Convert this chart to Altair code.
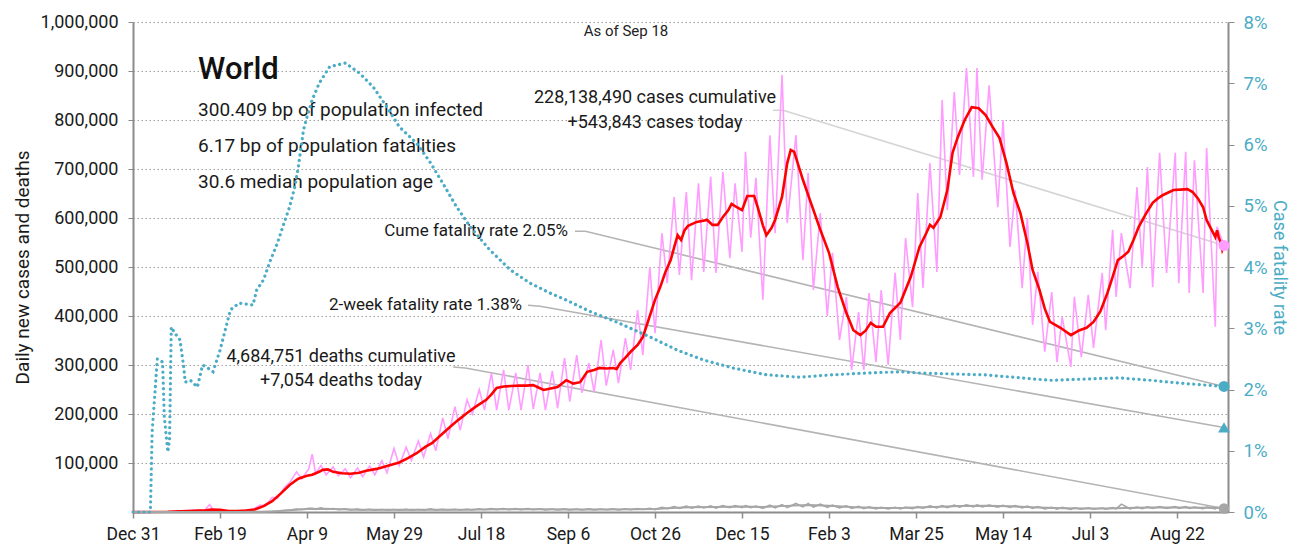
import altair as alt
import pandas as pd

FONT = "Roboto, Liberation Sans, sans-serif"
TEAL = "#4bacc6"
PINK = "#ff9cff"
RED = "#ff0000"
GRAY = "#a6a6a6"

# x axis: days since Dec 31, 2019
tick_days = [0, 50, 100, 150, 200, 250, 300, 350, 400, 450, 500, 550, 600]
tick_labels = ["Dec 31", "Feb 19", "Apr 9", "May 29", "Jul 18", "Sep 6", "Oct 26",
               "Dec 15", "Feb 3", "Mar 25", "May 14", "Jul 3", "Aug 22"]
y_ticks = [100000, 200000, 300000, 400000, 500000, 600000, 700000, 800000, 900000, 1000000]
pct_ticks = [0, 1, 2, 3, 4, 5, 6, 7, 8]

# daily new cases / deaths (thousands), read at weekly highs and lows
raw_days = [
    0, 3, 6, 10, 13, 17, 20, 24, 27, 31,
    34, 38, 41, 44, 46, 48, 52, 55, 59, 62,
    66, 69, 73, 76, 80, 83, 87, 90, 94, 97,
    101, 103, 105, 108, 111, 115, 118, 122, 125, 129,
    132, 136, 139, 143, 146, 150, 153, 157, 160, 164,
    167, 171, 174, 178, 181, 185, 188, 192, 195, 199,
    202, 206, 209, 213, 216, 220, 223, 227, 230, 234,
    237, 241, 244, 248, 251, 255, 258, 262, 265, 269,
    272, 276, 279, 283, 286, 290, 293, 297, 300, 304,
    307, 311, 314, 318, 321, 325, 328, 332, 335, 339,
    343, 346, 350, 352, 355, 358, 362, 366, 369, 373,
    376, 381, 385, 388, 391, 395, 399, 402, 406, 410,
    413, 417, 420, 423, 427, 430, 434, 438, 441, 444,
    448, 451, 454, 458, 462, 465, 468, 472, 475, 479,
    483, 485, 488, 492, 497, 500, 504, 507, 511, 514,
    517, 520, 524, 528, 531, 534, 539, 541, 545, 549,
    552, 557, 559, 563, 565, 568, 573, 577, 580, 583,
    586, 590, 594, 599, 601, 605, 607, 610, 615, 617,
    622, 623, 627]
raw_cases_k = [
    0, 0.1, 0, 0.1, 0.1, 0.2, 0.2, 1.0, 1.8, 2.1,
    3.0, 3.9, 2.5, 15.2, 5.0, 2.0, 1.5, 0.9, 1.4, 2.5,
    4.5, 5.5, 14, 12, 30, 28, 50, 60, 82, 68,
    88, 118, 78, 95, 76, 92, 74, 88, 70, 90,
    72, 94, 76, 105, 80, 130, 95, 132, 105, 145,
    112, 160, 125, 192, 150, 215, 167, 229, 200, 250,
    208, 284, 208, 290, 208, 284, 208, 300, 210, 284,
    208, 288, 212, 314, 225, 320, 243, 304, 245, 351,
    258, 331, 263, 355, 290, 412, 320, 500, 365, 569,
    467, 643, 484, 653, 473, 671, 490, 684, 488, 694,
    518, 671, 531, 735, 560, 682, 433, 769, 569, 892,
    590, 769, 514, 692, 453, 610, 400, 529, 351, 439,
    290, 408, 290, 447, 306, 453, 300, 488, 351, 559,
    418, 651, 457, 712, 490, 841, 616, 857, 688, 906,
    684, 906, 678, 871, 622, 800, 541, 657, 457, 600,
    382, 490, 327, 449, 306, 398, 296, 439, 316, 443,
    335, 488, 371, 576, 439, 569, 457, 663, 500, 704,
    459, 733, 488, 733, 467, 735, 447, 718, 447, 743,
    378, 582, 543.843]
raw_deaths_k = [
    0, 0, 0, 0, 0, 0, 0, 0.03, 0.05, 0.05,
    0.06, 0.09, 0.1, 0.25, 0.14, 0.1, 0.1, 0.1, 0.05, 0.1,
    0.2, 0.3, 0.5, 0.8, 1.5, 2.0, 3.2, 3.8, 6.0, 5.0,
    7.3, 7.5, 5.5, 8.5, 5.0, 7.0, 4.5, 6.3, 4.0, 5.8,
    3.8, 5.5, 3.5, 5.2, 3.6, 5.0, 3.6, 5.3, 3.5, 5.2,
    3.7, 6.5, 3.8, 5.3, 4.0, 5.6, 4.0, 5.5, 4.2, 6.5,
    4.5, 6.8, 4.8, 7.0, 4.8, 6.9, 4.9, 6.8, 4.6, 6.5,
    4.3, 6.2, 4.3, 6.3, 4.3, 6.0, 4.2, 6.3, 4.3, 6.2,
    4.5, 6.3, 4.0, 6.5, 4.5, 7.0, 5.0, 7.5, 5.0, 9.5,
    7.0, 11.0, 7.5, 12.0, 8.0, 12.2, 8.2, 12.5, 8.0, 13.0,
    8.8, 13.3, 9.0, 13.0, 9.0, 12.0, 7.5, 14.0, 8.5, 15.0,
    9.0, 17.5, 10.5, 17.5, 10.0, 16.0, 9.5, 14.0, 8.5, 12.5,
    7.5, 11.5, 7.0, 10.5, 6.5, 9.5, 6.5, 9.5, 6.5, 10.0,
    7.0, 11.0, 8.0, 12.5, 8.5, 13.0, 9.0, 14.0, 10.0, 14.5,
    10.5, 14.5, 10.5, 14.0, 10.0, 13.5, 9.5, 13.0, 8.5, 12.0,
    7.5, 11.0, 6.5, 9.5, 6.0, 9.5, 5.5, 8.5, 5.5, 8.5,
    5.5, 8.0, 6.0, 9.0, 6.5, 16.0, 6.5, 10.0, 7.0, 10.5,
    7.5, 11.0, 7.5, 11.0, 7.5, 11.0, 7.5, 10.0, 7.0, 10.0,
    6.5, 9.0, 7.054]

# 7-day average of new cases (thousands)
avg_days = [0, 20, 35, 42, 45, 50, 55, 60, 65, 70, 75, 80, 85, 90, 95, 100, 103, 107, 109,
            112, 115, 120, 125, 130, 134, 140, 144, 148, 153, 158, 163, 168, 172, 177, 182,
            187, 192, 197, 203, 206, 209, 213, 217, 222, 226, 230, 233, 236, 240, 244, 249,
            253, 257, 261, 265, 268, 272, 276, 278, 280, 283, 286, 290, 293, 297, 300, 303,
            306, 309, 311, 313, 315, 317, 319, 324, 330, 333, 336, 339, 342, 344, 347, 350,
            353, 357, 359, 362, 364, 367, 369, 373, 376, 378, 380, 382, 385, 389, 395, 400,
            405, 410, 414, 418, 421, 424, 427, 431, 435, 441, 447, 452, 456, 458, 460, 464,
            468, 471, 474, 478, 482, 486, 490, 494, 498, 502, 506, 510, 514, 517, 521, 524,
            527, 533, 539, 544, 548, 552, 556, 560, 563, 566, 569, 572, 575, 578, 582, 586,
            589, 592, 595, 598, 602, 606, 609, 612, 615, 617, 619, 621, 622, 623, 624, 625,
            626, 627]
avg_cases_k = [0, 0.5, 2.5, 3.5, 5, 4.5, 2, 1.8, 3, 5, 12, 22, 38, 55, 68, 74, 76, 82, 86,
               87, 82, 79, 78, 80, 84, 88, 92, 96, 101, 110, 120, 133, 141, 157, 173,
               188, 202, 215, 229, 240, 253, 256, 257, 258, 258, 259, 254, 249, 252, 255, 269,
               262, 265, 286, 290, 294, 293, 294, 292, 304, 315, 327, 341, 357, 400, 433, 459,
               490, 514, 540, 565, 555, 575, 584, 592, 596, 586, 586, 602, 615, 629, 622, 616,
               645, 645, 622, 585, 565, 580, 596, 643, 712, 739, 735, 712, 678, 637, 576, 529,
               459, 406, 371, 361, 370, 386, 378, 378, 406, 427, 480, 541, 570, 586, 580, 602,
               657, 733, 765, 800, 826, 824, 810, 786, 763, 712, 651, 610, 549, 494, 453, 415,
               388, 376, 361, 371, 376, 388, 410, 447, 480, 514, 522, 531, 555, 582, 608, 631,
               640, 647, 652, 657, 658, 659, 653, 640, 622, 596, 582, 568, 561, 575, 560, 551,
               535, 545]

# smoothed daily deaths (thousands)
deaths_avg_days = [0, 30, 45, 60, 70, 80, 90, 100, 110, 120, 130, 150, 170, 190, 210, 230,
                   250, 270, 290, 300, 310, 320, 335, 350, 362, 375, 388, 400, 415, 430, 445,
                   460, 475, 490, 505, 520, 535, 550, 560, 570, 585, 600, 615, 627]
deaths_avg_k = [0, 0.05, 0.12, 0.08, 0.3, 1.2, 3.5, 6.0, 6.8, 5.8, 4.8, 4.4, 4.6, 4.8, 5.8, 5.7,
                5.3, 5.3, 5.8, 6.3, 8.0, 9.8, 10.3, 11.0, 10.2, 12.5, 14.2, 12.8, 9.8, 8.3, 8.6,
                10.2, 12.0, 12.6, 11.5, 9.0, 7.6, 7.0, 7.2, 8.3, 9.0, 9.4, 8.8, 8.5]

# cumulative case fatality rate (%)
cfr_days = [0, 10, 11, 14, 17, 18, 20, 21, 22, 24, 27, 29, 30, 33, 37, 40, 43, 46, 50, 56,
            61, 69, 71, 75, 79, 83, 86, 90, 93, 95, 98, 100, 103, 107, 113, 122, 130, 138,
            146, 153, 163, 171, 178, 186, 194, 205, 217, 228, 240, 249, 263, 278, 297, 313,
            328, 345, 364, 383, 402, 422, 441, 451, 489, 527, 546, 566, 585, 603, 627]
cfr_pct = [0, 0, 1.3, 2.5, 2.45, 1.55, 0.98, 1.18, 3.02, 2.92, 2.81, 2.4, 2.12, 2.15, 2.04,
           2.4, 2.35, 2.29, 2.64, 3.3, 3.41, 3.38, 3.62, 3.79, 4.11, 4.39, 4.65, 4.98, 5.31,
           5.63, 6.24, 6.45, 6.73, 7.0, 7.27, 7.33, 7.17, 6.94, 6.61, 6.29, 6.02, 5.7, 5.37,
           4.98, 4.65, 4.28, 3.95, 3.74, 3.57, 3.46, 3.27, 3.1, 2.86, 2.64, 2.48, 2.35, 2.24,
           2.2, 2.24, 2.27, 2.29, 2.27, 2.24, 2.15, 2.17, 2.19, 2.15, 2.1, 2.05]

last_day = 627
cases_today = 543843
deaths_today = 7054
cume_cfr = 2.05
two_week_cfr = 1.38

# annotation leader lines (day, value on the left scale)
conn_cases_days = [367.8, 373.6, 627]
conn_cases_vals = [820000, 820000, 543843]
conn_cfr_days = [254, 260, 627]
conn_cfr_vals = [573000, 573000, cume_cfr / 8 * 1e6]
conn_2wk_days = [227, 234, 627]
conn_2wk_vals = [422000, 420000, two_week_cfr / 8 * 1e6]
conn_deaths_days = [184, 191, 627]
conn_deaths_vals = [296000, 294000, 7054]

# texts
left_texts = ["300.409 bp of population infected", "6.17 bp of population fatalities",
              "30.6 median population age"]
left_text_vals = [820000, 747000, 673000]
center_texts = ["228,138,490 cases cumulative", "+543,843 cases today",
                "4,684,751 deaths cumulative", "+7,054 deaths today"]
center_text_days = [300, 300, 119.5, 119.5]
center_text_vals = [845000, 794000, 316000, 267000]
right_texts = ["Cume fatality rate 2.05%", "2-week fatality rate 1.38%"]
right_text_days = [250, 223.6]
right_text_vals = [573000, 422000]

# ---------------- build -----------------
raw_df = pd.DataFrame({"d": raw_days, "v": [c * 1000 for c in raw_cases_k]})
draw_df = pd.DataFrame({"d": raw_days, "v": [x * 1000 for x in raw_deaths_k]})
avg_df = pd.DataFrame({"d": avg_days, "v": [c * 1000 for c in avg_cases_k]})
davg_df = pd.DataFrame({"d": deaths_avg_days, "v": [c * 1000 for c in deaths_avg_k]})
cfr_df = pd.DataFrame({"d": cfr_days, "p": cfr_pct})

label_arr = "[" + ",".join("'%s'" % s for s in tick_labels) + "]"

X = alt.X("d:Q",
          scale=alt.Scale(domain=[0, 629.3], nice=False, zero=False),
          axis=alt.Axis(values=tick_days, labelExpr=label_arr + "[round(datum.value/50)]",
                        title=None, grid=False, tickSize=6, labelPadding=7, labelFontSize=17.5,
                        labelColor="#1a1a1a", domainColor="#8c8c8c", tickColor="#8c8c8c",
                        domainWidth=2, tickWidth=1.5, labelFlush=False))

YL = alt.Y("v:Q",
           scale=alt.Scale(domain=[0, 1000000], nice=False, zero=True),
           axis=alt.Axis(values=y_ticks, format=",d",
                         title="Daily new cases and deaths", titleFontSize=19,
                         titleFontWeight="normal", titleColor="#1a1a1a",
                         titleX=-111, titleY=245, titleBaseline="middle",
                         grid=True, gridDash=[1.5, 2.5], gridColor="#a0a0a0", gridWidth=1,
                         tickSize=5, labelPadding=10, labelFontSize=18, labelColor="#1a1a1a",
                         domainColor="#8c8c8c", tickColor="#8c8c8c", domainWidth=2))

YR = alt.Y("p:Q",
           scale=alt.Scale(domain=[0, 8], nice=False, zero=True),
           axis=alt.Axis(orient="right", values=pct_ticks,
                         labelExpr="datum.value + '%'",
                         title="Case fatality rate", titleFontSize=18,
                         titleFontWeight="normal", titleColor=TEAL,
                         titleX=50, titleY=245, titleBaseline="middle",
                         grid=False, tickSize=6, labelPadding=9, labelFontSize=18.5,
                         labelColor=TEAL, domainColor="#8c8c8c", tickColor="#8c8c8c",
                         domainWidth=2))


def conn(days, vals, color):
    df = pd.DataFrame({"d": days, "v": vals})
    return alt.Chart(df).mark_line(color=color, strokeWidth=1.6).encode(x=X, y=YL)


conn_layers = [
    conn(conn_cases_days, conn_cases_vals, "#d4d4d4"),
    conn(conn_cfr_days, conn_cfr_vals, "#b4b4b4"),
    conn(conn_2wk_days, conn_2wk_vals, "#b4b4b4"),
    conn(conn_deaths_days, conn_deaths_vals, "#b4b4b4"),
]

pink = alt.Chart(raw_df).mark_line(color=PINK, strokeWidth=1.6).encode(x=X, y=YL)
red = alt.Chart(avg_df).mark_line(color=RED, strokeWidth=2.6).encode(x=X, y=YL)
deaths_raw = alt.Chart(draw_df).mark_line(color=GRAY, strokeWidth=1.6).encode(x=X, y=YL)
deaths_avg = alt.Chart(davg_df).mark_line(color=GRAY, strokeWidth=2).encode(x=X, y=YL)

pink_dot = alt.Chart(pd.DataFrame({"d": [last_day], "v": [cases_today]})).mark_point(
    filled=True, shape="circle", size=120, color=PINK, opacity=1).encode(x=X, y=YL)
gray_dot = alt.Chart(pd.DataFrame({"d": [last_day], "v": [deaths_today]})).mark_point(
    filled=True, shape="circle", size=110, color=GRAY, opacity=1).encode(x=X, y=YL)

title_df = pd.DataFrame({"d": [37.4], "v": [902000], "t": ["World"]})
world = alt.Chart(title_df).mark_text(align="left", baseline="middle", fontSize=31,
                                      fontWeight=500, color="#111111").encode(
    x=X, y=YL, text="t:N")
asof_df = pd.DataFrame({"d": [283.3], "v": [982000], "t": ["As of Sep 18"]})
asof = alt.Chart(asof_df).mark_text(align="center", baseline="middle", fontSize=15,
                                    color="#222222").encode(x=X, y=YL, text="t:N")
lt_df = pd.DataFrame({"d": [37.4] * 3, "v": left_text_vals, "t": left_texts})
lt = alt.Chart(lt_df).mark_text(align="left", baseline="middle", fontSize=19,
                                color="#1a1a1a").encode(x=X, y=YL, text="t:N")
ct_df = pd.DataFrame({"d": center_text_days, "v": center_text_vals, "t": center_texts})
ct = alt.Chart(ct_df).mark_text(align="center", baseline="middle", fontSize=18,
                                color="#1a1a1a").encode(x=X, y=YL, text="t:N")
rt_df = pd.DataFrame({"d": right_text_days, "v": right_text_vals, "t": right_texts})
rt = alt.Chart(rt_df).mark_text(align="right", baseline="middle", fontSize=17,
                                color="#1a1a1a").encode(x=X, y=YL, text="t:N")

left = alt.layer(*conn_layers, pink, red, deaths_raw, deaths_avg, pink_dot, gray_dot,
                 world, asof, lt, ct, rt)

cfr_line = alt.Chart(cfr_df).mark_line(color=TEAL, strokeWidth=3.2, strokeDash=[0.1, 5.4],
                                       strokeCap="round").encode(x=X, y=YR)
cfr_mk = pd.DataFrame({"d": [last_day], "p": [cume_cfr]})
tw_mk = pd.DataFrame({"d": [last_day], "p": [two_week_cfr]})
cfr_dot = alt.Chart(cfr_mk).mark_point(filled=True, shape="circle", size=120, color=TEAL,
                                       opacity=1).encode(x=X, y=YR)
tw_tri = alt.Chart(tw_mk).mark_point(filled=True, shape="triangle-up", size=140, color=TEAL,
                                     opacity=1).encode(x=X, y=YR)
right = alt.layer(cfr_line, cfr_dot, tw_tri)

chart = alt.layer(left, right).resolve_scale(y="independent").properties(
    width=1095, height=490,
    autosize=alt.AutoSizeParams(type="none"),
    padding={"left": 125, "top": 14, "right": 62, "bottom": 36},
).configure(font=FONT).configure_view(stroke=None)

chart.save("out.html", embed_options={"renderer": "svg", "actions": False})
